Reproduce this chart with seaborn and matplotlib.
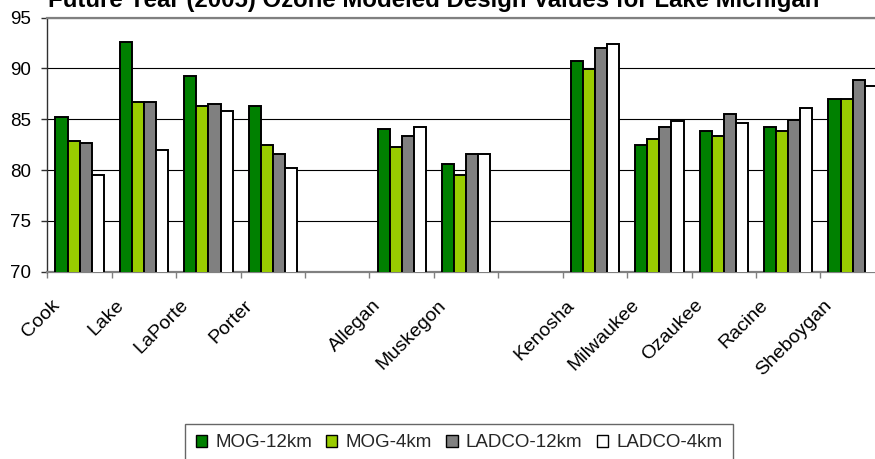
import matplotlib
matplotlib.use("Agg")
import matplotlib.pyplot as plt
import matplotlib.transforms as mtransforms
from matplotlib.ticker import FixedLocator
import seaborn as sns
import pandas as pd

# Counties grouped by lake shore; a blank slot separates each group
illinois_indiana = ["Cook", "Lake", "LaPorte", "Porter"]
michigan = ["Allegan", "Muskegon"]
wisconsin = ["Kenosha", "Milwaukee", "Ozaukee", "Racine", "Sheboygan"]
counties = illinois_indiana + michigan + wisconsin

runs = ["MOG-12km", "MOG-4km", "LADCO-12km", "LADCO-4km"]
mog_12km = [85.2, 92.6, 89.3, 86.3, 84.0, 80.6, 90.7, 82.5, 83.8, 84.2, 87.0]
mog_4km = [82.9, 86.7, 86.3, 82.5, 82.3, 79.5, 89.9, 83.1, 83.4, 83.8, 87.0]
ladco_12km = [82.7, 86.7, 86.5, 81.6, 83.4, 81.6, 92.0, 84.2, 85.5, 84.9, 88.9]
ladco_4km = [79.5, 82.0, 85.8, 80.2, 84.2, 81.6, 92.4, 84.8, 84.6, 86.1, 88.3]

y_ticks = [70, 75, 80, 85, 90, 95]
title = "Future Year (2005) Ozone Modeled Design Values for Lake Michigan"

series = dict(zip(runs, [mog_12km, mog_4km, ladco_12km, ladco_4km]))
df = pd.DataFrame(
    [(c, r, v) for r in runs for c, v in zip(counties, series[r])],
    columns=["county", "run", "value"],
)
order = illinois_indiana + [" "] + michigan + ["  "] + wisconsin
tick_labels = [c.strip() for c in order]

sns.set_theme(style="white")
plt.rcParams["font.family"] = ["Liberation Sans", "DejaVu Sans"]

fig = plt.figure(figsize=(8.75, 4.59), dpi=100)
ax = fig.add_axes([0.0542, 0.408, 0.957, 0.5536])

palette = ["#008000", "#99CC00", "#808080", "#FFFFFF"]
sns.barplot(
    data=df, x="county", y="value", hue="run", order=order, hue_order=runs,
    palette=palette, width=0.75, edgecolor="black", linewidth=1.4,
    saturation=1, ax=ax, zorder=3,
)

ax.set_ylim(y_ticks[0], y_ticks[-1])
ax.set_xlim(-0.5, len(order) - 0.5)
ax.set_yticks(y_ticks)
ax.set_xlabel("")
ax.set_ylabel("")

# horizontal gridlines
ax.yaxis.grid(True, color="black", linewidth=0.8, zorder=0)
ax.set_axisbelow(True)

for side in ["top", "bottom", "right"]:
    ax.spines[side].set_color("#808080")
    ax.spines[side].set_linewidth(1.6)
ax.spines["left"].set_color("#303030")
ax.spines["left"].set_linewidth(1.0)

ax.tick_params(axis="y", which="major", direction="out", length=4,
               width=1, color="#303030", pad=7.5, labelsize=13.5,
               labelcolor="black", left=True)

# category boundary ticks
ax.xaxis.set_minor_locator(FixedLocator([i - 0.5 for i in range(len(order) + 1)]))
ax.tick_params(axis="x", which="minor", direction="out", length=4,
               width=1, color="#808080", bottom=True)
ax.set_xticks(range(len(order)))
ax.set_xticklabels(tick_labels, rotation=45, ha="right", va="top",
                   fontsize=14, color="black")
ax.tick_params(axis="x", which="major", length=0, pad=18)
shift = mtransforms.ScaledTranslation(-0.17, 0, fig.dpi_scale_trans)
for lbl in ax.get_xticklabels():
    lbl.set_transform(lbl.get_transform() + shift)

handles, labels = ax.get_legend_handles_labels()
if ax.get_legend() is not None:
    ax.get_legend().remove()
leg = fig.legend(
    handles, labels, loc="upper center", bbox_to_anchor=(459 / 875, 1 - 424 / 459),
    ncol=4, frameon=True, fancybox=False, fontsize=13.5,
    handlelength=0.6, handleheight=0.6, handletextpad=0.45,
    columnspacing=0.75, borderpad=0.55, borderaxespad=0,
)
leg.get_frame().set_edgecolor("#404040")
leg.get_frame().set_linewidth(1.0)
for h in leg.legend_handles:
    h.set_edgecolor("black")
    h.set_linewidth(1.0)

fig.text(48 / 875, 1 - 7 / 459, title, ha="left", va="baseline",
         fontsize=17.3, fontweight="bold", color="black")

fig.savefig("out.png", dpi=100, facecolor="white")
